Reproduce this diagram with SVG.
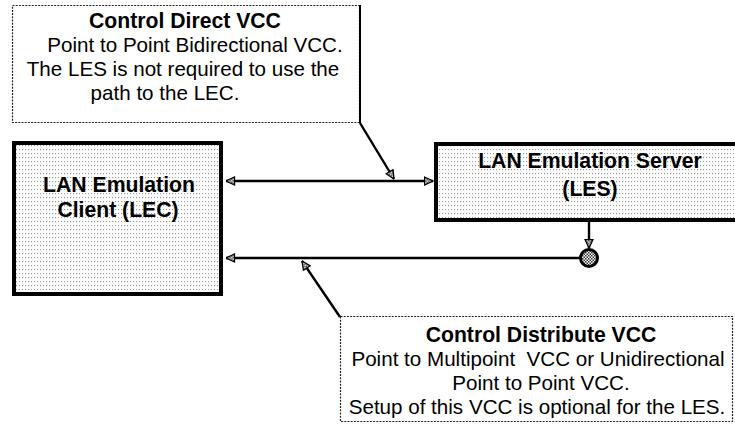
<svg xmlns="http://www.w3.org/2000/svg" width="735" height="432" viewBox="0 0 735 432">
<defs>
<pattern id="dots" width="3" height="4" patternUnits="userSpaceOnUse">
<rect width="3" height="4" fill="#ffffff"/>
<rect x="1" y="1" width="1.1" height="1.1" fill="#9a9a9a"/>
</pattern>
<pattern id="chk" width="3" height="3" patternUnits="userSpaceOnUse">
<rect width="3" height="3" fill="#ffffff"/>
<rect width="1.5" height="1.5" fill="#333"/>
<rect x="1.5" y="1.5" width="1.5" height="1.5" fill="#333"/>
</pattern>
<marker id="arr" viewBox="0 0 10 10" refX="9.5" refY="5" markerWidth="10" markerHeight="10" markerUnits="userSpaceOnUse" orient="auto-start-reverse">
<path d="M1,1 L9.5,5 L1,9 Z" fill="url(#chk)" stroke="#000" stroke-width="1.3"/>
</marker>
<style>
.node{stroke:#000;stroke-width:4;fill:url(#dots)}
.call{fill:#fff;stroke:#222;stroke-width:1.2;stroke-dasharray:2 1.2}
.t{font-family:"Liberation Sans",Arial,sans-serif;font-size:20.6px;fill:#000;text-anchor:middle}
.b{font-weight:bold;font-size:21.2px}
.c{fill:none;stroke:#000;stroke-width:2.4}
</style>
</defs>

<g id="callout-direct">
<rect class="call" x="12.5" y="5.5" width="347" height="117"/>
<line x1="360" y1="5" x2="360" y2="123" stroke="#000" stroke-width="2"/>
<text class="t b" x="185" y="28">Control Direct VCC</text>
<text class="t" x="195" y="52">Point to Point Bidirectional VCC.</text>
<text class="t" x="183" y="76">The LES is not required to use the</text>
<text class="t" x="165" y="100">path to the LEC.</text>
</g>

<g id="lec">
<rect class="node" x="14" y="143" width="207" height="151"/>
<text class="t b" x="119" y="192">LAN Emulation</text>
<text class="t b" x="118" y="217">Client (LEC)</text>
</g>

<g id="les">
<rect class="node" x="436" y="144" width="310" height="76"/>
<text class="t b" x="590" y="168">LAN Emulation Server</text>
<text class="t b" x="590" y="196">(LES)</text>
</g>

<g id="callout-distribute">
<rect class="call" x="340.5" y="316.5" width="392" height="105"/>
<text class="t b" x="541" y="342">Control Distribute VCC</text>
<text class="t" x="538" y="366" xml:space="preserve">Point to Multipoint  VCC or Unidirectional</text>
<text class="t" x="541" y="390">Point to Point VCC.</text>
<text class="t" x="537" y="414">Setup of this VCC is optional for the LES.</text>
</g>

<g id="distribute-point">
<circle cx="589" cy="258" r="8.5" fill="url(#chk)" stroke="#000" stroke-width="3"/>
</g>

<g id="connectors">
<line class="c" x1="226" y1="181" x2="433" y2="181" marker-start="url(#arr)" marker-end="url(#arr)"/>
<line class="c" x1="580" y1="258" x2="226" y2="258" marker-end="url(#arr)"/>
<line class="c" x1="589" y1="222" x2="589" y2="248" marker-end="url(#arr)"/>
<line class="c" x1="360" y1="123" x2="394" y2="179" marker-end="url(#arr)"/>
<line class="c" x1="340" y1="317" x2="302" y2="261" marker-end="url(#arr)"/>
</g>
</svg>
